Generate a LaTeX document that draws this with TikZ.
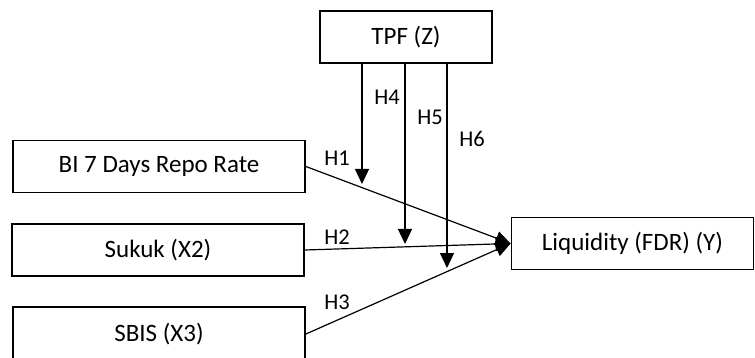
\documentclass[tikz,border=0pt]{standalone}
\usepackage{fontspec}
\setmainfont{Carlito}
\usetikzlibrary{arrows.meta}
\begin{document}
\begin{tikzpicture}[x=1pt,y=-1pt,
  varbox/.style={draw,line width=1.8pt,minimum height=52pt,inner sep=0pt,font=\fontsize{25}{28}\selectfont},
  link/.style={line width=1.2pt,-{Triangle[length=15pt,width=14pt]}},
  hlab/.style={font=\fontsize{22.5}{26}\selectfont,inner sep=0pt}]
\useasboundingbox (0,0) rectangle (755,358);
\node[varbox,minimum width=172pt] (tpf) at (406,37) {TPF (Z)};
\node[varbox,minimum width=292pt] (bi) at (159,166.5) {BI 7 Days Repo Rate};
\node[varbox,minimum width=292pt] (suk) at (158,250) {Sukuk (X2)};
\node[varbox,minimum width=292pt,minimum height=54pt] (sbis) at (159,334) {SBIS (X3)};
\node[varbox,minimum width=242pt] (liq) at (632.5,243.5) {Liquidity (FDR) (Y)};
\draw[link] (bi.east) -- (liq.west);
\draw[link] (suk.east) -- (liq.west);
\draw[link] (sbis.east) -- (liq.west);
\coordinate (m1) at (362,184);
\coordinate (m2) at (405,244);
\coordinate (m3) at (447,268);
\draw[link] (tpf.south -| m1) -- (m1);
\draw[link] (tpf.south -| m2) -- (m2);
\draw[link] (tpf.south -| m3) -- (m3);
\node[hlab] (h1) at (337,158) {H1};
\node[hlab] (h2) at (337,237) {H2};
\node[hlab] (h3) at (337,302) {H3};
\node[hlab] (h4) at (387,97) {H4};
\node[hlab] (h5) at (430,117) {H5};
\node[hlab] (h6) at (472,139) {H6};
\end{tikzpicture}
\end{document}
